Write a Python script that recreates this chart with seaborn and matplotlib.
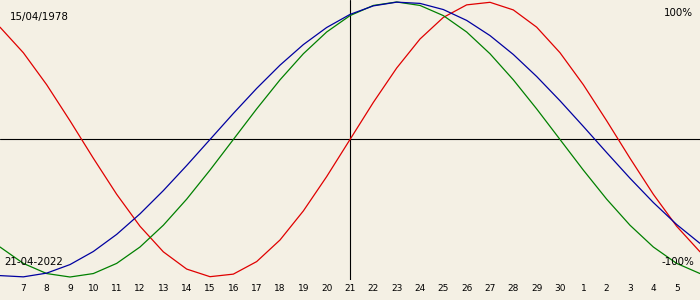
import matplotlib
matplotlib.use("Agg")
import matplotlib.pyplot as plt
import seaborn as sns
import pandas as pd

# ---- data ----
offsets = list(range(-15, 16))  # days relative to 21-04-2022

physical = [81.69, 63.11, 39.84, 13.62, -13.62, -39.84, -63.11, -81.69, -94.23, -99.77,
            -97.91, -88.79, -73.08, -51.96, -26.98, 0.0, 26.98, 51.96, 73.08, 88.79,
            97.91, 99.77, 94.23, 81.69, 63.11, 39.84, 13.62, -13.62, -39.84, -63.11, -81.69]

emotional = [-78.18, -90.10, -97.49, -100.0, -97.49, -90.10, -78.18, -62.35, -43.39, -22.25,
             0.0, 22.25, 43.39, 62.35, 78.18, 90.10, 97.49, 100.0, 97.49, 90.10,
             78.18, 62.35, 43.39, 22.25, 0.0, -22.25, -43.39, -62.35, -78.18, -90.10, -97.49]

intellectual = [-98.98, -99.89, -97.18, -90.96, -81.45, -69.01, -54.06, -37.17, -18.93, 0.0,
                18.93, 37.17, 54.06, 69.01, 81.45, 90.96, 97.18, 99.89, 98.98, 94.50,
                86.60, 75.57, 61.82, 45.82, 28.17, 9.51, -9.51, -28.17, -45.82, -61.82, -75.57]

tick_offsets = list(range(-14, 15))
tick_labels = ["7", "8", "9", "10", "11", "12", "13", "14", "15", "16", "17", "18", "19", "20",
               "21", "22", "23", "24", "25", "26", "27", "28", "29", "30",
               "1", "2", "3", "4", "5"]

birth_label = "15/04/1978"
date_label = "21-04-2022"
top_label = "100%"
bottom_label = "-100%"

# ---- style ----
bg = "#f4f0e4"
sns.set_style("white")
plt.rcParams["font.family"] = ["DejaVu Sans"]
plt.rcParams["text.color"] = "black"

df = pd.DataFrame({
    "offset": offsets * 3,
    "value": physical + emotional + intellectual,
    "series": ["physical"] * len(offsets) + ["emotional"] * len(offsets) + ["intellectual"] * len(offsets),
})
palette = {"physical": "#e00000", "emotional": "#008000", "intellectual": "#0000a0"}

fig = plt.figure(figsize=(7, 3), dpi=100)
fig.patch.set_facecolor(bg)
ax = fig.add_axes([0, 20 / 300, 1, 280 / 300])
ax.set_facecolor(bg)

ax.axhline(0, color="black", lw=0.8, zorder=1)
ax.axvline(0, color="black", lw=0.8, zorder=1)

sns.lineplot(data=df, x="offset", y="value", hue="series", palette=palette,
             linewidth=0.9, legend=False, ax=ax, zorder=2)

ax.set_xlim(-15, 15)
ax.set_ylim(-102.18, 101.45)
for s in ax.spines.values():
    s.set_visible(False)
ax.set_xlabel("")
ax.set_ylabel("")
ax.set_yticks([])
ax.set_xticks(tick_offsets)
ax.set_xticklabels(tick_labels)
ax.tick_params(axis="x", direction="in", length=4, width=0.8, pad=3,
               labelsize=6.5, colors="black", labelcolor="black")

fig.text(10 / 700, 1 - 17 / 300, birth_label, fontsize=7.4, va="center", ha="left", color="black")
fig.text(693 / 700, 1 - 13 / 300, top_label, fontsize=7.4, va="center", ha="right", color="black")
fig.text(4 / 700, 1 - 262 / 300, date_label, fontsize=7.4, va="center", ha="left", color="black")
fig.text(694 / 700, 1 - 262 / 300, bottom_label, fontsize=7.4, va="center", ha="right", color="black")

fig.savefig("out.png", dpi=100, facecolor=bg)
